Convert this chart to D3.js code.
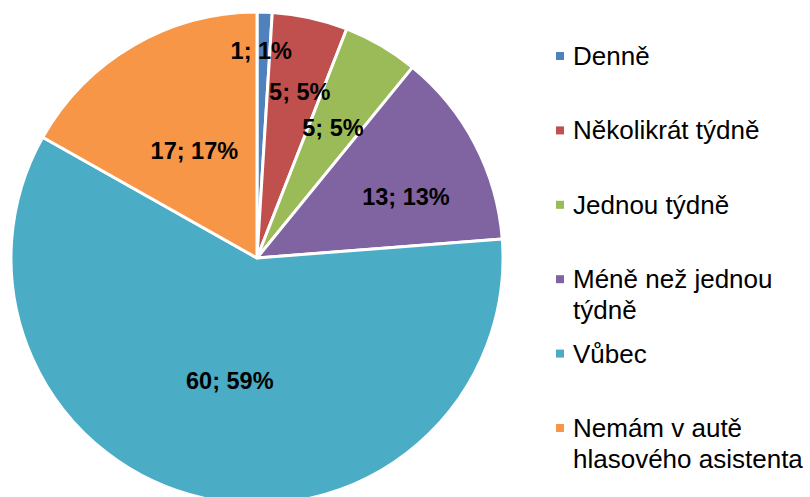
<!DOCTYPE html>
<html>
<head>
<meta charset="utf-8">
<script src="https://cdn.jsdelivr.net/npm/d3@7"></script>
<style>
  body { margin: 0; background: #fff; }
  text { font-family: Arial, "Liberation Sans", sans-serif; }
</style>
</head>
<body>
<div class="chart"></div>
<script>
// data
var categories = ["Denně", "Několikrát týdně", "Jednou týdně", "Méně než jednou týdně", "Vůbec", "Nemám v autě hlasového asistenta"];
var legendLines = [["Denně"], ["Několikrát týdně"], ["Jednou týdně"], ["Méně než jednou", "týdně"], ["Vůbec"], ["Nemám v autě", "hlasového asistenta"]];
var counts = [1, 5, 5, 13, 60, 17];
var colors = ["#4F81BD", "#C0504D", "#9BBB59", "#8064A2", "#4BACC6", "#F79646"];

// label placement (fraction of radius, angle nudge in degrees)
var labelRadius = [0.845, 0.70, 0.612, 0.655, 0.512, 0.505];
var labelNudge = [-0.6, 1.9, 0, 5.2, 0, 0];

var width = 810, height = 497;
var cx = 257, cy = 258, radius = 246;

var svg = d3.select(".chart")
  .append("svg")
    .attr("width", width)
    .attr("height", height);

var g = svg.append("g")
  .attr("transform", "translate(" + cx + "," + cy + ")");

var total = d3.sum(counts);

var pie = d3.pie().sort(null).value(function(d) { return d; });
var arcs = pie(counts);

var arc = d3.arc().innerRadius(0).outerRadius(radius);

g.selectAll("path")
  .data(arcs)
  .enter().append("path")
    .attr("d", arc)
    .attr("fill", function(d, i) { return colors[i]; })
    .attr("stroke", "#fff")
    .attr("stroke-width", 3)
    .attr("stroke-linejoin", "round");

// data labels
g.selectAll(".lbl")
  .data(arcs)
  .enter().append("text")
    .attr("class", "lbl")
    .attr("transform", function(d, i) {
      var a = (d.startAngle + d.endAngle) / 2 + labelNudge[i] * Math.PI / 180;
      var r = radius * labelRadius[i];
      return "translate(" + (r * Math.sin(a)) + "," + (-r * Math.cos(a)) + ")";
    })
    .attr("text-anchor", "middle")
    .attr("dy", "0.36em")
    .attr("font-size", "23.5px")
    .attr("font-weight", "bold")
    .attr("fill", "#000")
    .text(function(d) { return d.data + "; " + Math.round(d.data / total * 100) + "%"; });

// legend
var legendTop = 65, legendStep = 74.4, lineH = 31;
var legend = svg.append("g");

var item = legend.selectAll("g")
  .data(categories)
  .enter().append("g")
    .attr("transform", function(d, i) { return "translate(556," + (legendTop + i * legendStep) + ")"; });

item.append("rect")
  .attr("x", 0)
  .attr("y", -13)
  .attr("width", 8)
  .attr("height", 8)
  .attr("fill", function(d, i) { return colors[i]; });

item.append("text")
  .attr("x", 17)
  .attr("y", 0)
  .attr("font-size", "26px")
  .attr("fill", "#000")
  .each(function(d, i) {
    var t = d3.select(this);
    legendLines[i].forEach(function(line, j) {
      t.append("tspan").attr("x", 17).attr("y", j * lineH).text(line);
    });
  });
</script>
</body>
</html>
